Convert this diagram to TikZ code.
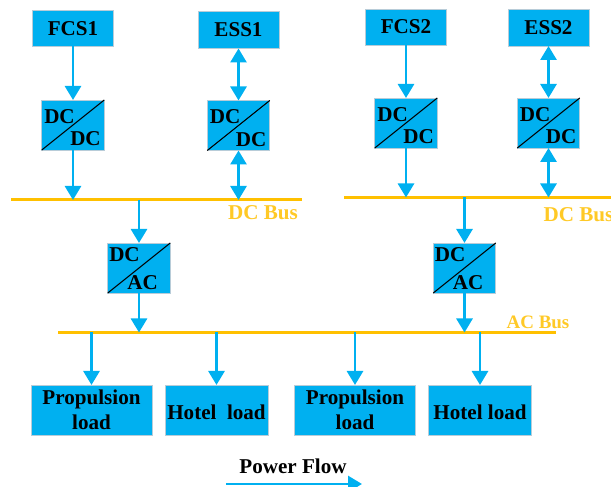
\documentclass[tikz,border=0pt]{standalone}
\usepackage{fontspec}
\setmainfont{Liberation Serif}
\usepackage{tikz}
\usetikzlibrary{arrows.meta}
\definecolor{blockblue}{HTML}{00B0F0}
\definecolor{busyellow}{HTML}{FFC000}
\definecolor{edgegray}{HTML}{B8CCD8}
\tikzset{txt/.style={inner sep=0pt,font=\fontsize{12}{14.4}\selectfont\bfseries,align=center}}
\tikzset{block/.style={txt,draw=edgegray,line width=0.4pt,fill=blockblue,outer sep=0pt,minimum width=1.62cm,minimum height=0.72cm}}
\tikzset{conv/.style={block,minimum width=1.25cm,minimum height=1cm}}
\tikzset{load/.style={block,minimum height=1cm}}
\tikzset{hotel/.style={load,minimum width=2.06cm,text height=10.5pt}}
\tikzset{arrow/.style={-{Triangle[width=3.2mm,length=2.8mm]},draw=blockblue,line width=1.6pt}}
\tikzset{biarrow/.style={arrow,{Triangle[width=3.2mm,length=2.8mm]}-{Triangle[width=3.2mm,length=2.8mm]}}}
\tikzset{bus/.style={draw=busyellow,line width=1.7pt}}
\tikzset{buslabel/.style={txt,text=busyellow!85!white}}
\newcommand{\dcdc}[2]{
    \node[conv] (#1) at (#2) {};
    \draw[line width=0.6pt] (#1.south west) -- (#1.north east);
    \node[txt,xshift=-2.7mm,yshift=1.7mm] (#1in) at (#1) {DC};
    \node[txt,xshift=2.5mm,yshift=-2.8mm] (#1out) at (#1) {DC};
}
\newcommand{\dcac}[2]{
    \node[conv] (#1) at (#2) {};
    \draw[line width=0.6pt] (#1.south west) -- (#1.north east);
    \node[txt,xshift=-2.9mm,yshift=2.7mm] (#1in) at (#1) {DC};
    \node[txt,xshift=0.7mm,yshift=-2.9mm] (#1out) at (#1) {AC};
}

\begin{document}
\begin{tikzpicture}
        \useasboundingbox (0,0) rectangle (12.22,9.74);

        \coordinate (dcbusaw) at (0.22,5.74);
        \coordinate (dcbusae) at (6.04,5.74);
        \coordinate (dcbusbw) at (6.88,5.79);
        \coordinate (dcbusbe) at (12.22,5.79);
        \coordinate (acbusw) at (1.16,3.09);
        \coordinate (acbuse) at (11.12,3.09);
        \draw[bus] (dcbusaw) -- (dcbusae);
        \draw[bus] (dcbusbw) -- (dcbusbe);
        \draw[bus] (acbusw) -- (acbuse);

        \node[block] (fcsa) at (1.46,9.17) {FCS1};
        \node[block,minimum height=0.74cm] (essa) at (4.77,9.14) {ESS1};
        \node[block] (fcsb) at (8.12,9.20) {FCS2};
        \node[block,minimum height=0.74cm] (essb) at (10.97,9.19) {ESS2};

        \dcdc{dcfa}{1.46,7.24}
        \dcdc{dcea}{4.77,7.23}
        \dcdc{dcfb}{8.12,7.28}
        \dcdc{dceb}{10.97,7.28}
        \dcac{inva}{2.78,4.38}
        \dcac{invb}{9.29,4.38}

        \node[load,minimum width=2.42cm] (propa) at (1.83,1.54) {Propulsion\\load};
        \node[hotel] (hota) at (4.33,1.54) {Hotel\ \ load};
        \node[load,minimum width=2.42cm] (propb) at (7.10,1.54) {Propulsion\\load};
        \node[hotel] (hotb) at (9.60,1.54) {Hotel load};

        \node[buslabel] (dcla) at (5.26,5.48) {DC Bus};
        \node[buslabel] (dclb) at (11.57,5.45) {DC Bus};
        \node[buslabel,font=\fontsize{10.8}{13}\selectfont\bfseries] (acl) at (10.76,3.29) {AC Bus};
        \node[txt] (flow) at (5.86,0.42) {Power Flow};

        \coordinate (tapfa) at (1.46,5.74);
        \coordinate (tapea) at (4.77,5.74);
        \coordinate (tapia) at (2.78,5.74);
        \coordinate (tapfb) at (8.12,5.79);
        \coordinate (tapeb) at (10.97,5.79);
        \coordinate (tapib) at (9.29,5.79);
        \coordinate (acia) at (2.78,3.09);
        \coordinate (acib) at (9.29,3.09);
        \coordinate (acpa) at (1.83,3.09);
        \coordinate (acha) at (4.33,3.09);
        \coordinate (acpb) at (7.10,3.09);
        \coordinate (achb) at (9.60,3.09);
        \coordinate (flowa) at (4.52,0.06);
        \coordinate (flowb) at (7.24,0.06);

        \draw[arrow] (fcsa) -- (dcfa);
        \draw[arrow] (dcfa) -- (tapfa);
        \draw[biarrow] (essa) -- (dcea);
        \draw[biarrow] (dcea) -- (tapea);
        \draw[arrow] (tapia) -- (inva);
        \draw[arrow] (inva) -- (acia);
        \draw[arrow] (fcsb) -- (dcfb);
        \draw[arrow] (dcfb) -- (tapfb);
        \draw[biarrow] (essb) -- (dceb);
        \draw[biarrow] (dceb) -- (tapeb);
        \draw[arrow] (tapib) -- (invb);
        \draw[arrow] (invb) -- (acib);
        \draw[arrow] (acpa) -- (propa);
        \draw[arrow] (acha) -- (hota);
        \draw[arrow] (acpb) -- (propb);
        \draw[arrow] (achb) -- (hotb);
        \draw[arrow] (flowa) -- (flowb);
    \end{tikzpicture}
\end{document}
